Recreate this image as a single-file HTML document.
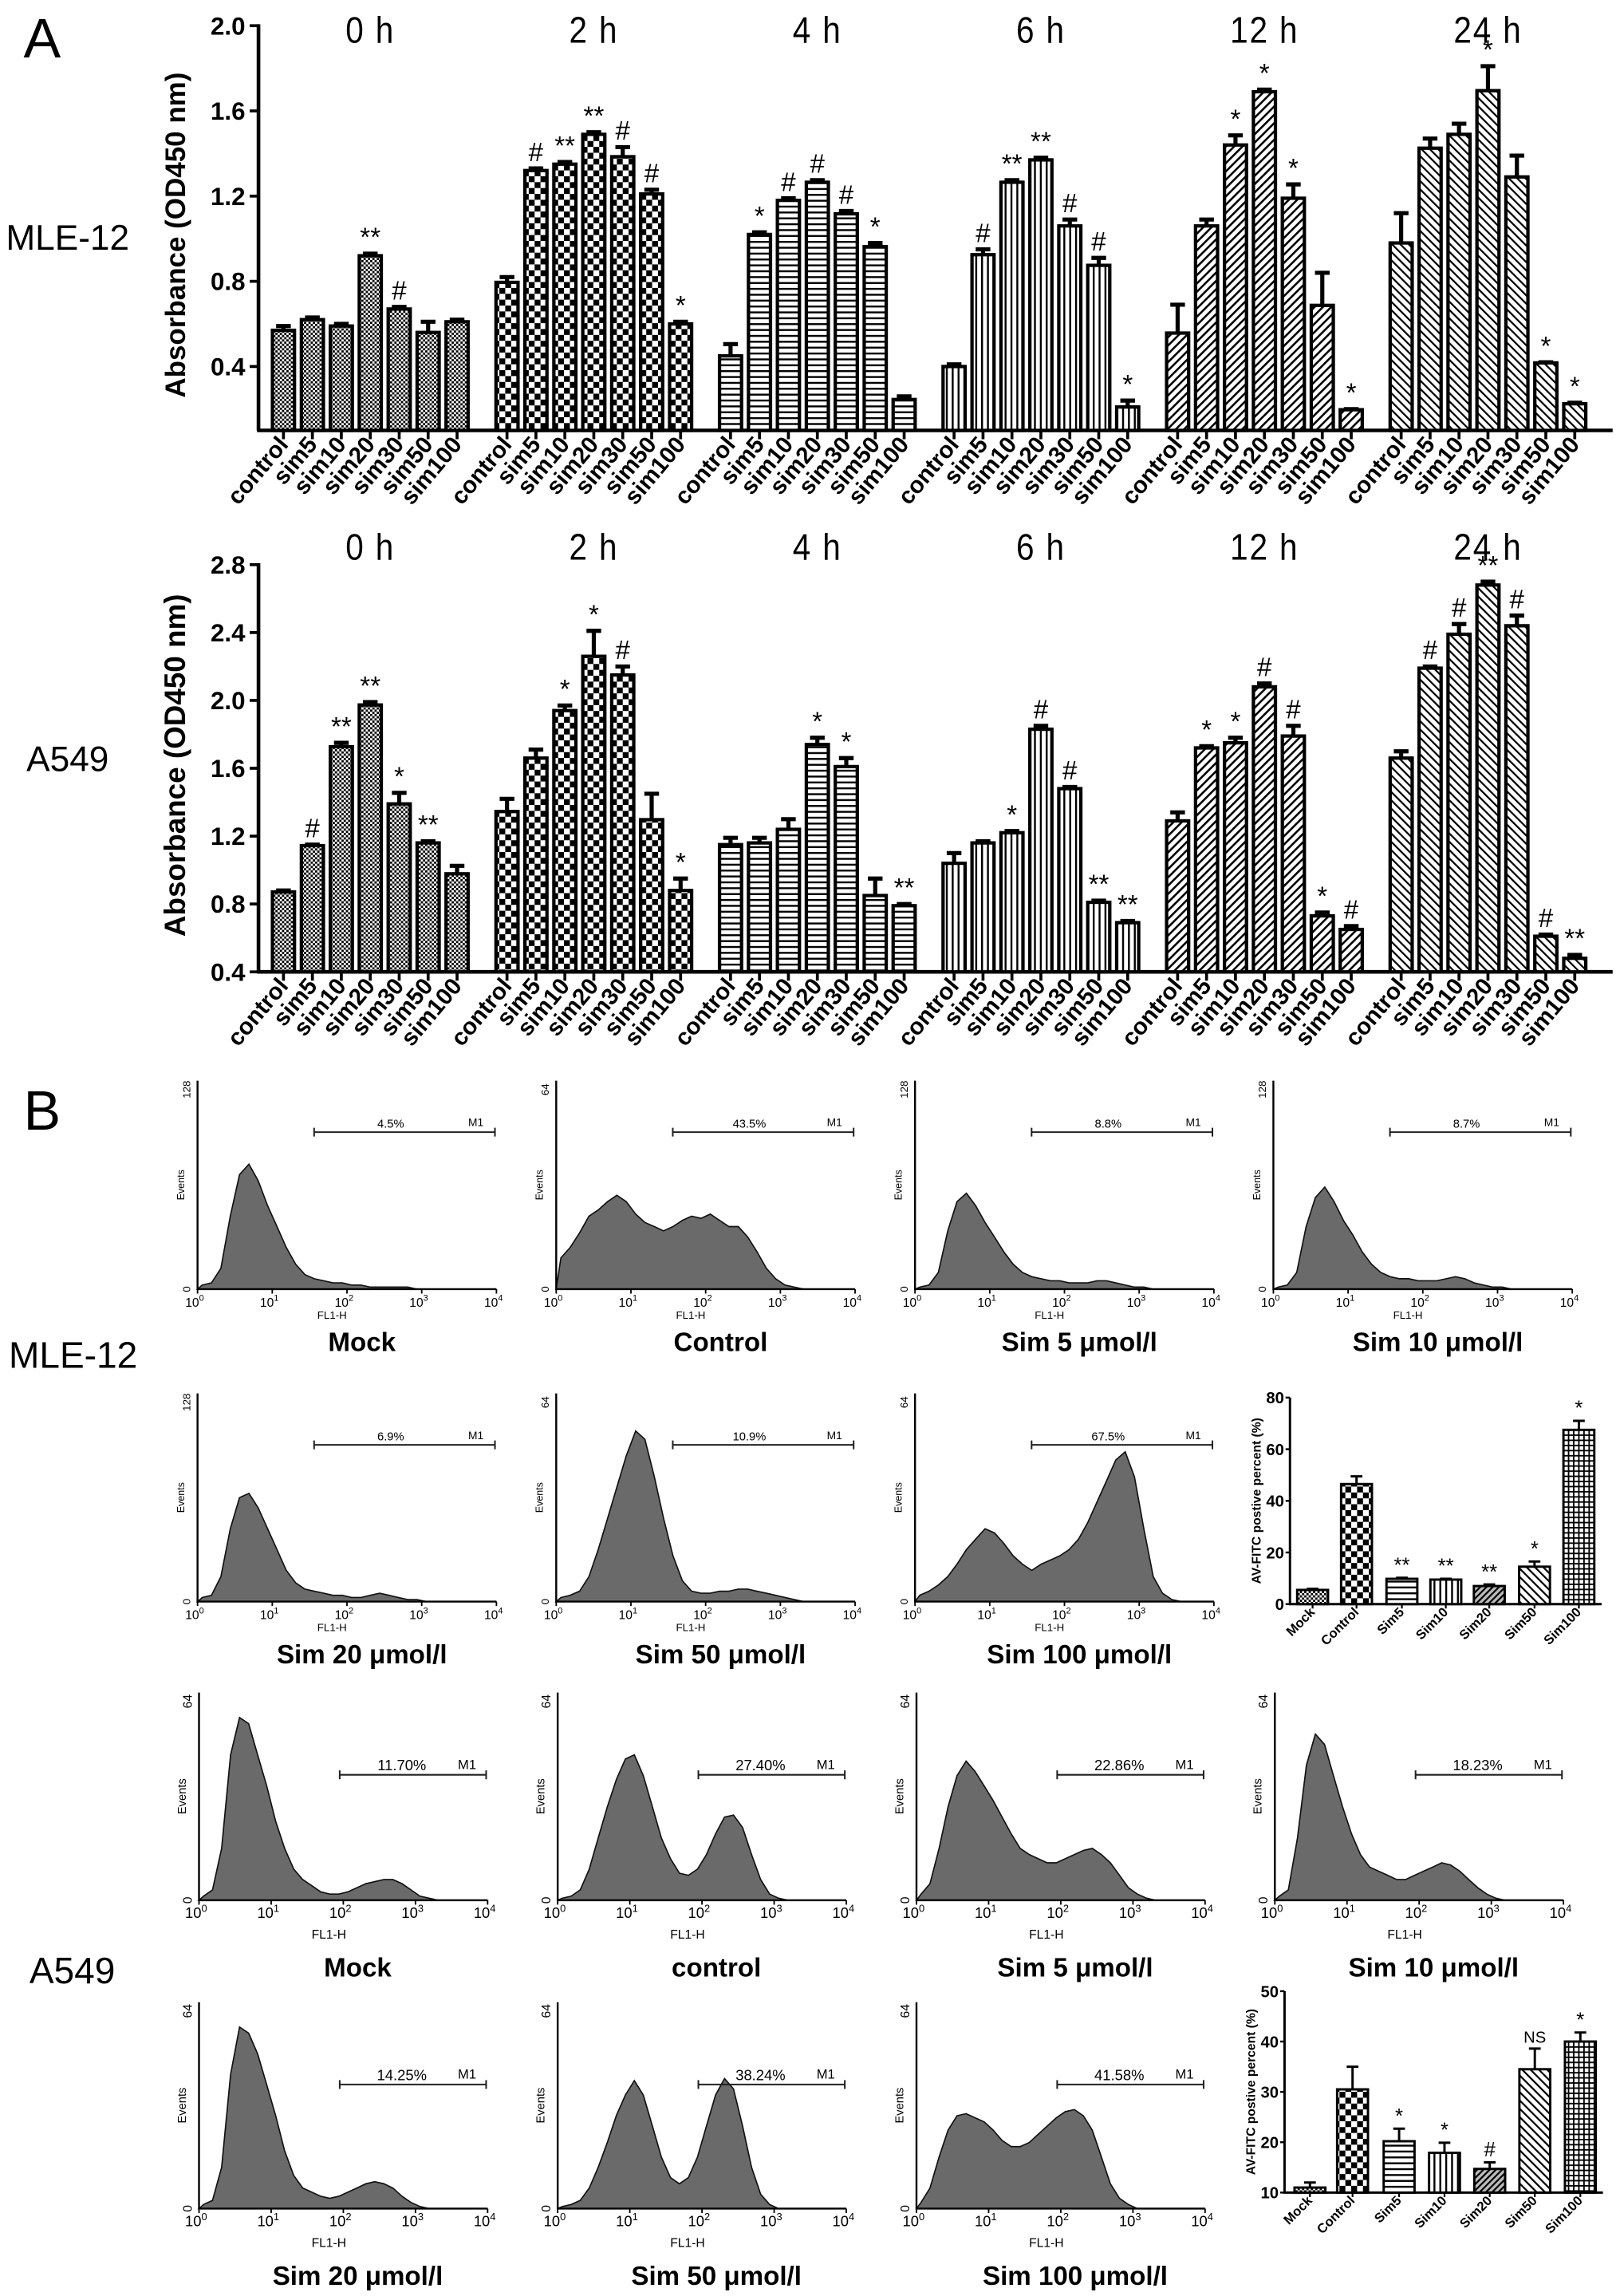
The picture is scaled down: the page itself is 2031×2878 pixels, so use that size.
<!DOCTYPE html>
<html><head><meta charset="utf-8"><style>
html,body{margin:0;padding:0;background:#fff}
svg{display:block}
text{font-family:"Liberation Sans",Arial,sans-serif}
</style></head><body>
<svg id="fig" xmlns="http://www.w3.org/2000/svg" width="2031" height="2878" viewBox="0 0 1103 1563" preserveAspectRatio="none">
<defs>
<pattern id="p0" width="3" height="3" patternUnits="userSpaceOnUse"><rect width="3" height="3" fill="#fff"/><rect width="1.5" height="1.5" fill="#000"/><rect x="1.5" y="1.5" width="1.5" height="1.5" fill="#000"/></pattern>
<pattern id="p1" width="8" height="8" patternUnits="userSpaceOnUse"><rect width="8" height="8" fill="#fff"/><rect width="4" height="4" fill="#000"/><rect x="4" y="4" width="4" height="4" fill="#000"/></pattern>
<pattern id="p2" width="4" height="4" patternUnits="userSpaceOnUse"><rect width="4" height="4" fill="#fff"/><rect width="4" height="1.3" fill="#000"/></pattern>
<pattern id="p3" width="4" height="4" patternUnits="userSpaceOnUse"><rect width="4" height="4" fill="#fff"/><rect width="1.3" height="4" fill="#000"/></pattern>
<pattern id="p4" width="4" height="4" patternUnits="userSpaceOnUse" patternTransform="rotate(45)"><rect width="4" height="4" fill="#fff"/><rect width="1.4" height="4" fill="#000"/></pattern>
<pattern id="p5" width="4" height="4" patternUnits="userSpaceOnUse" patternTransform="rotate(-45)"><rect width="4" height="4" fill="#fff"/><rect width="1.2" height="4" fill="#000"/></pattern>
<pattern id="p6" width="3.5" height="3.5" patternUnits="userSpaceOnUse"><rect width="3.5" height="3.5" fill="#fff"/><rect width="3.5" height="1" fill="#000"/><rect width="1" height="3.5" fill="#000"/></pattern>
<pattern id="p7" width="3" height="3" patternUnits="userSpaceOnUse" patternTransform="rotate(45)"><rect width="3" height="3" fill="#bbb"/><rect width="1.2" height="3" fill="#000"/></pattern>
</defs>
<text x="16" y="39" font-size="38">A</text>
<text x="4" y="170" font-size="24">MLE-12</text>
<text x="18" y="525" font-size="24">A549</text>
<text x="16" y="769" font-size="38">B</text>
<text x="6" y="931" font-size="25">MLE-12</text>
<text x="20" y="1350" font-size="25">A549</text>
<text transform="translate(126,160) rotate(-90)" text-anchor="middle" font-size="19" font-weight="bold">Absorbance (OD450 nm)</text>
<text transform="translate(126,521) rotate(-90)" text-anchor="middle" font-size="20" font-weight="bold">Absorbance (OD450 nm)</text>
<g id="g"></g>
</svg>
<script>
const NS='http://www.w3.org/2000/svg';
const groups=['0 h','2 h','4 h','6 h','12 h','24 h'];
const cats=['control','sim5','sim10','sim20','sim30','sim50','sim100'];
const mleTicks=[0.4,0.8,1.2,1.6,2.0];
const mleMeans=[[0.57,0.62,0.59,0.92,0.67,0.56,0.61],[0.795,1.32,1.35,1.49,1.385,1.21,0.6],[0.45,1.02,1.18,1.265,1.117,0.963,0.245],[0.40,0.925,1.265,1.37,1.06,0.875,0.21],[0.557,1.06,1.44,1.69,1.19,0.687,0.197],[0.98,1.425,1.49,1.695,1.29,0.417,0.225]];
const mleErrs=[[0.59,0.63,0.6,0.93,0.68,0.61,0.62],[0.82,1.33,1.36,1.5,1.43,1.23,0.61],[0.505,1.03,1.19,1.275,1.13,0.98,0.26],[0.41,0.95,1.275,1.38,1.09,0.91,0.24],[0.69,1.09,1.485,1.70,1.255,0.84,0.2],[1.12,1.47,1.54,1.81,1.39,0.42,0.23]];
const mleSig=[['','','','**','#','',''],['','#','**','**','#','#','*'],['','*','#','#','#','*',''],['','#','**','**','#','#','*'],['','','*','*','*','','*'],['','','','*','','*','*']];
const aTicks=[0.4,0.8,1.2,1.6,2.0,2.4,2.8];
const aMeans=[[0.871,1.144,1.727,1.973,1.39,1.16,0.978],[1.345,1.66,1.94,2.26,2.15,1.297,0.88],[1.15,1.16,1.24,1.74,1.61,0.85,0.79],[1.04,1.16,1.22,1.83,1.48,0.81,0.69],[1.29,1.72,1.75,2.08,1.79,0.73,0.65],[1.66,2.19,2.39,2.68,2.44,0.61,0.48]];
const aErrs=[[0.88,1.15,1.75,1.99,1.455,1.17,1.025],[1.42,1.71,1.97,2.41,2.2,1.45,0.95],[1.19,1.19,1.3,1.78,1.66,0.95,0.8],[1.1,1.17,1.23,1.85,1.49,0.82,0.7],[1.34,1.73,1.78,2.1,1.85,0.75,0.67],[1.70,2.2,2.45,2.7,2.5,0.62,0.5]];
const aSig=[['','#','**','**','*','**',''],['','','*','*','#','','*'],['','','','*','*','','**'],['','','*','#','#','**','**'],['','*','*','#','#','*','#'],['','#','#','**','#','#','**']];
const fCats=['Mock','Control','Sim5','Sim10','Sim20','Sim50','Sim100'];
const fMleTicks=[0,20,40,60,80];
const fMleVals=[5.5,46.5,9.8,9.5,7,14.5,67.5];
const fMleErrs=[5.9,49.5,10.2,9.8,7.6,16.5,71];
const fMleSig=['','','**','**','**','*','*'];
const fATicks=[10,20,30,40,50];
const fAVals=[11,30.5,20.2,17.9,14.7,34.5,40];
const fAErrs=[12,35,22.7,19.9,16,38.6,41.8];
const fASig=['','','*','*','#','NS','*'];
const histTitles=[['Mock','Control','Sim 5 μmol/l','Sim 10 μmol/l'],['Sim 20 μmol/l','Sim 50 μmol/l','Sim 100 μmol/l'],['Mock','control','Sim 5 μmol/l','Sim 10 μmol/l'],['Sim 20 μmol/l','Sim 50 μmol/l','Sim 100 μmol/l']];
const histPct=[['4.5%','43.5%','8.8%','8.7%'],['6.9%','10.9%','67.5%'],['11.70%','27.40%','22.86%','18.23%'],['14.25%','38.24%','41.58%']];
const histMax=[128,64,128,128,128,64,64,64,64,64,64,64,64,64];
const histBins=[
[2,3,10,35,55,60,52,40,30,20,12,7,5,4,3,3,2,2,1,1,1,1,1,0,0,0,0,0,0,0,0,0],
[15,20,27,35,38,42,45,42,36,32,30,28,30,33,35,34,36,33,30,30,25,18,10,5,2,1,0,0,0,0,0,0],
[1,2,8,28,42,46,40,32,25,18,12,8,6,5,4,4,3,3,3,4,4,3,2,1,1,0,0,0,0,0,0,0],
[1,2,8,30,44,49,42,33,26,18,12,8,6,5,5,4,4,4,5,6,5,3,2,1,1,0,0,0,0,0,0,0],
[2,3,12,35,50,52,45,35,25,15,9,6,5,4,3,3,2,2,3,4,3,2,1,1,0,0,0,0,0,0,0,0],
[2,3,5,12,25,40,55,70,82,78,60,40,22,10,5,4,4,5,5,6,6,5,4,3,2,1,0,0,0,0,0,0],
[3,5,8,12,18,25,30,35,33,28,22,18,15,18,20,22,25,30,38,48,58,68,72,60,35,12,4,1,0,0,0,0],
[2,5,25,70,88,85,70,55,38,25,15,10,7,4,3,3,4,6,8,9,10,10,8,5,2,1,0,0,0,0,0,0],
[1,2,5,15,30,45,58,68,70,60,45,30,20,13,12,15,22,32,40,41,35,22,10,3,1,0,0,0,0,0,0,0],
[3,8,25,45,60,67,62,55,48,40,32,25,22,20,18,18,20,22,24,25,22,18,12,6,3,1,0,0,0,0,0,0],
[2,5,30,65,80,75,60,45,32,22,16,14,12,10,10,12,14,16,18,17,14,10,6,3,1,0,0,0,0,0,0,0],
[2,4,20,65,88,85,75,60,45,28,16,10,8,6,5,6,8,10,12,13,12,10,6,3,1,0,0,0,0,0,0,0],
[1,2,4,10,20,32,45,55,62,55,40,25,15,12,15,25,40,55,63,58,40,20,7,2,0,0,0,0,0,0,0,0],
[3,10,25,38,45,46,44,42,38,33,30,30,32,36,40,44,47,48,45,38,25,12,5,2,0,0,0,0,0,0,0,0]];
const histGate=[1.56,1.56,1.56,1.56,1.56,1.56,1.56,1.95,1.95,1.95,1.95,1.95,1.95,1.95];

const G=document.getElementById('g');
function mk(tag,attrs,parent){const e=document.createElementNS(NS,tag);for(const k in attrs)e.setAttribute(k,attrs[k]);(parent||G).appendChild(e);return e;}
function txt(s,attrs,parent){const e=mk('text',attrs,parent);e.textContent=s;return e;}

const xBar=(g,i)=>193+g*152.2+i*19.7;
const yMle=v=>293-(v-0.1)/0.4*58;
const yA=v=>661.6-(v-0.4)*115.5;
const pats=['url(#p0)','url(#p1)','url(#p2)','url(#p3)','url(#p4)','url(#p5)'];

function barChart(name,yf,ticks,means,errs,sig,base,titleY){
  const ch=mk('g',{});
  
  
  const ax=mk('line',{x1:176,y1:yf(ticks[ticks.length-1])-1,x2:176,y2:base,stroke:'#000','stroke-width':2.5},ch);
  
  
  const xl=mk('line',{x1:175,y1:base,x2:1098,y2:base,stroke:'#000','stroke-width':2.5},ch);
  
  
  ticks.forEach(t=>{
    mk('line',{x1:170,y1:yf(t),x2:176,y2:yf(t),stroke:'#000','stroke-width':2},ch);
    const tl=txt(t.toFixed(1),{x:167,y:yf(t)+6,'text-anchor':'end','font-size':17,'font-weight':'bold'},ch);
    
    
  });
  groups.forEach((gn,g)=>{
    const gt=txt(gn,{transform:`translate(${xBar(g,3)},${titleY}) scale(1,1.15)`,'text-anchor':'middle','font-size':22,'letter-spacing':'1'},ch);
    
    
    cats.forEach((c,i)=>{
      const x=xBar(g,i),v=means[g][i],e=errs[g][i];
      const eb=mk('path',{d:`M${x} ${yf(v)}V${yf(e)}M${x-5} ${yf(e)}H${x+5}`,stroke:'#000','stroke-width':2.8,fill:'none'},ch);
      
      
      const r=mk('rect',{x:x-7.5,y:yf(v),width:15,height:base-yf(v),fill:pats[g],stroke:'#000','stroke-width':2.3},ch);
      
      
      mk('line',{x1:x,y1:base,x2:x,y2:base+6,stroke:'#000','stroke-width':2},ch);
      const cl=txt(c,{transform:`translate(${x+4},${base+10}) rotate(-50)`,'text-anchor':'end','font-size':16,'font-weight':'bold'},ch);
      
      
      if(sig[g][i]){
        const s=txt(sig[g][i],{x:x,y:Math.min(yf(e),yf(v))-5,'text-anchor':'middle','font-size':18},ch);
        
        
      }
    });
  });
}
barChart('mle12-absorbance-chart',yMle,mleTicks,mleMeans,mleErrs,mleSig,293,29);
barChart('a549-absorbance-chart',yA,aTicks,aMeans,aErrs,aSig,661.6,381);

function hist(idx,x0,yTop,yBase,w,title,pct,big){
  const p=mk('g',{});
  
  
  const xs=l=>x0+l/4*w, ys=v=>yBase-v/100*(yBase-yTop);
  const bins=histBins[idx];
  let d=`M${x0} ${yBase}`;
  bins.forEach((v,i)=>{d+=`L${xs((i+0.5)*0.125).toFixed(1)} ${ys(v).toFixed(1)}`;});
  d+=`L${x0+w} ${yBase}Z`;
  const a=mk('path',{d:d,fill:'#6a6a6a',stroke:'#111','stroke-width':0.9},p);
  
  
  mk('path',{d:`M${x0} ${yTop}V${yBase}H${x0+w}`,stroke:'#000','stroke-width':1.3,fill:'none'},p);
  const fs=big?10:8.5;
  for(let k=0;k<=4;k++){
    mk('line',{x1:xs(k),y1:yBase,x2:xs(k),y2:yBase+3,stroke:'#000','stroke-width':1},p);
    const t=txt('10',{x:xs(k)-2,y:yBase+12,'text-anchor':'middle','font-size':fs},p);
    const sp=document.createElementNS(NS,'tspan');sp.setAttribute('dy','-4');sp.setAttribute('font-size',fs*0.7);sp.textContent=String(k);t.appendChild(sp);
  }
  txt(String(histMax[idx]),{transform:`translate(${x0-5},${yTop+6}) rotate(-90)`,'text-anchor':'middle','font-size':fs*0.85},p);
  txt('0',{transform:`translate(${x0-5},${yBase}) rotate(-90)`,'text-anchor':'middle','font-size':fs*0.85},p);
  txt('Events',{transform:`translate(${x0-9},${(yTop+yBase)/2}) rotate(-90)`,'text-anchor':'middle','font-size':fs*0.8},p);
  txt('FL1-H',{x:x0+w*0.45,y:yBase+(big?26:20),'text-anchor':'middle','font-size':fs*0.85},p);
  const gy=yTop+(big?56:35), gx=xs(histGate[idx]);
  const m=mk('path',{d:`M${gx} ${gy-3}V${gy+3}M${gx} ${gy}H${x0+w-1}M${x0+w-1} ${gy-3}V${gy+3}`,stroke:'#222','stroke-width':1.1,fill:'none'},p);
  
  
  txt(pct,{x:gx+(x0+w-gx)*0.42,y:gy-3,'text-anchor':'middle','font-size':big?10:8},p);
  txt('M1',{x:x0+w-14,y:gy-4,'text-anchor':'middle','font-size':big?9:7.5},p);
  const tt=txt(title,{x:x0+w*0.55,y:yBase+(big?52:42),'text-anchor':'middle','font-size':18,'font-weight':'bold'},p);
  
  
}
const cols=[134.5,378.7,623,867];
const rowsY=[[735.7,877.6],[948.6,1090.3],[1152.2,1293.6],[1363,1503.5]];
let hi=0;
histTitles.forEach((row,r)=>{
  row.forEach((t,c)=>{
    const big=r>=2;
    hist(hi,cols[c]+(big?1:0),rowsY[r][0],rowsY[r][1],big?196.5:203.5,t,histPct[r][c],big);
    hi++;
  });
});

const fPats=['url(#p0)','url(#p1)','url(#p2)','url(#p3)','url(#p7)','url(#p5)','url(#p6)'];
function flowBar(name,x0,xEnd,yf,ticks,vals,errs,sig,base,bx){
  const ch=mk('g',{});
  
  
  mk('path',{d:`M${x0} ${yf(ticks[ticks.length-1])}V${base}H${xEnd}`,stroke:'#000','stroke-width':1.6,fill:'none'},ch);
  ticks.forEach(t=>{
    mk('line',{x1:x0-3,y1:yf(t),x2:x0,y2:yf(t),stroke:'#000','stroke-width':1.3},ch);
    const tl=txt(String(t),{x:x0-4,y:yf(t)+4,'text-anchor':'end','font-size':11,'font-weight':'bold'},ch);
    
    
  });
  const yt=txt('AV-FITC postive percent (%)',{transform:`translate(${x0-20},${(yf(ticks[ticks.length-1])+base)/2}) rotate(-90)`,'text-anchor':'middle','font-size':8.5,'font-weight':'bold'},ch);
  
  
  fCats.forEach((c,i)=>{
    const x=bx[i],v=vals[i],e=errs[i];
    const eb=mk('path',{d:`M${x} ${yf(v)}V${yf(e)}M${x-4} ${yf(e)}H${x+4}`,stroke:'#000','stroke-width':1.6,fill:'none'},ch);
    
    
    const r=mk('rect',{x:x-10.5,y:yf(v),width:21,height:base-yf(v),fill:fPats[i],stroke:'#000','stroke-width':1.6},ch);
    
    
    mk('line',{x1:x,y1:base,x2:x,y2:base+3,stroke:'#000','stroke-width':1.2},ch);
    const cl=txt(c,{transform:`translate(${x+2},${base+6}) rotate(-45)`,'text-anchor':'end','font-size':9,'font-weight':'bold'},ch);
    
    
    if(sig[i]){
      const s=txt(sig[i],{x:x,y:yf(e)-4,'text-anchor':'middle','font-size':sig[i]==='NS'?11:14},ch);
      
      
    }
  });
}
flowBar('mle12-annexin-chart',878.3,1090.5,v=>1092-v*1.7575,fMleTicks,fMleVals,fMleErrs,fMleSig,1092,[893.7,923.6,954.5,984.4,1014,1044.8,1075]);
flowBar('a549-annexin-chart',874.6,1091.4,v=>1492.6-(v-10)/40*137.1,fATicks,fAVals,fAErrs,fASig,1492.6,[891.9,920.9,952.6,983.5,1014.3,1045,1076]);
</script>
</body></html>
